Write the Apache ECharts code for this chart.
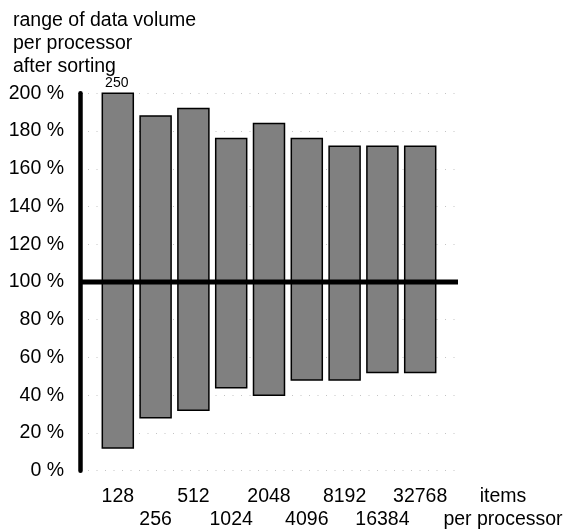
<!DOCTYPE html>
<html>
<head>
<meta charset="utf-8">
<script src="https://cdn.jsdelivr.net/npm/echarts@6/dist/echarts.min.js"></script>
<style>
html,body{margin:0;padding:0;background:#fff;}
#chart{width:566px;height:531px;}
</style>
</head>
<body>
<div id="chart"></div>
<script>
var categories = ['128','256','512','1024','2048','4096','8192','16384','32768'];
var lows  = [12, 28, 32, 44, 40, 48, 48, 52, 52];
var highs = [250, 188, 192, 176, 184, 176, 172, 172, 172];
var referenceLevel = 100;
var yTicks = [0, 20, 40, 60, 80, 100, 120, 140, 160, 180, 200];
var yMax = 200;
var xAxisTitle = 'items\nper processor';
var yAxisTitle = 'range of data volume\nper processor\nafter sorting';

var FONT = '"Liberation Sans", Arial, sans-serif';
var chart = echarts.init(document.getElementById('chart'));

var barData = categories.map(function (c, i) { return [i + 1, lows[i], highs[i]]; });

chart.setOption({
  animation: false,
  title: {
    text: yAxisTitle,
    left: 13, top: 9, padding: 0,
    textStyle: { fontFamily: FONT, fontSize: 19.5, fontWeight: 'normal', color: '#000', lineHeight: 23 }
  },
  graphic: [{
    type: 'text',
    x: 503, y: 485.5,
    style: { text: xAxisTitle, align: 'center', verticalAlign: 'top',
      fontFamily: FONT, fontSize: 19.5, lineHeight: 23, fill: '#000' }
  }],
  grid: { left: 80, right: 108, top: 93.3, bottom: 60.3, containLabel: false, outerBoundsMode: 'none' },
  xAxis: {
    type: 'value', min: 0, max: categories.length + 1, interval: 1,
    axisLine: { show: false }, axisTick: { show: false }, splitLine: { show: false },
    axisLabel: {
      margin: 14, fontFamily: FONT, fontSize: 19.5, color: '#000', lineHeight: 23,
      showMinLabel: false, showMaxLabel: false,
      formatter: function (v) {
        var i = Math.round(v) - 1;
        if (i < 0 || i >= categories.length) return '';
        return (i % 2 === 0) ? categories[i] : '\n' + categories[i];
      }
    }
  },
  yAxis: {
    type: 'value', min: yTicks[0], max: yMax, interval: yTicks[1] - yTicks[0],
    axisLine: { show: true, lineStyle: { color: '#000', width: 4.5 } },
    axisTick: { show: false },
    axisLabel: { margin: 16, fontFamily: FONT, fontSize: 19.5, color: '#000',
      formatter: function (v) { return v + ' %'; } },
    splitLine: { show: true, lineStyle: { color: '#c4c4c4', width: 1, type: [1, 7.5], dashOffset: -8 } }
  },
  series: [
    {
      type: 'custom',
      data: barData,
      encode: { x: 0, y: [1, 2] },
      renderItem: function (params, api) {
        var x = api.value(0), lo = api.value(1), hi = api.value(2);
        var top = api.coord([x, Math.min(hi, yMax)]);
        var bot = api.coord([x, lo]);
        var w = api.size([1, 0])[0] * 0.82;
        var children = [{
          type: 'rect',
          shape: { x: top[0] - w / 2, y: top[1], width: w, height: bot[1] - top[1] },
          style: { fill: '#808080', stroke: '#000', lineWidth: 1.5 }
        }];
        if (hi > yMax) {
          children.push({
            type: 'text',
            style: { text: String(hi), x: top[0] - 1, y: top[1] - 3, align: 'center', verticalAlign: 'bottom',
              font: '14px ' + FONT, fill: '#000' }
          });
        }
        return { type: 'group', children: children };
      },
      z: 2
    },
    {
      type: 'line',
      data: [[0, referenceLevel], [categories.length + 1, referenceLevel]],
      symbol: 'none',
      lineStyle: { color: '#000', width: 5 },
      z: 3
    }
  ]
});
</script>
</body>
</html>
